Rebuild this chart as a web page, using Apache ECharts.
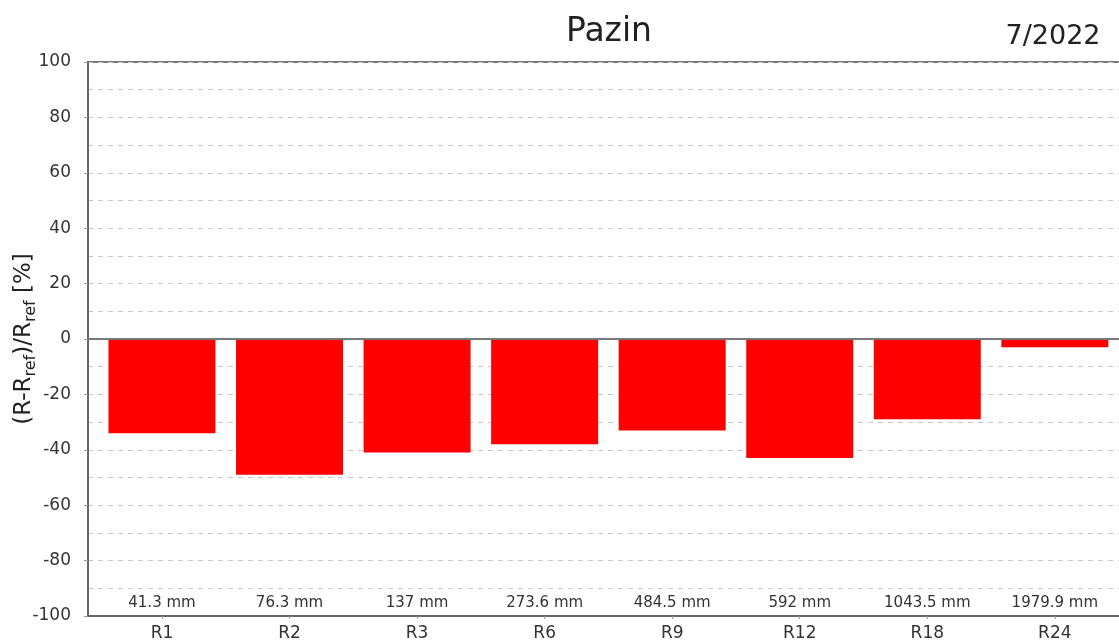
<!DOCTYPE html>
<html>
<head>
<meta charset="utf-8">
<script src="https://cdn.jsdelivr.net/npm/echarts@6/dist/echarts.min.js"></script>
<style>
  html, body { margin: 0; padding: 0; background: #fff; }
  #chart { width: 1119px; height: 641px; }
</style>
</head>
<body>
<div id="chart"></div>
<script>
// Precipitation periods (months) and relative deviation from reference
const categories = ['R1', 'R2', 'R3', 'R6', 'R9', 'R12', 'R18', 'R24'];
const precipitation = [41.3, 76.3, 137, 273.6, 484.5, 592, 1043.5, 1979.9];
const deviation = [-34, -49, -41, -38, -33, -43, -29, -3];
const yTicks = [-100, -80, -60, -40, -20, 0, 20, 40, 60, 80, 100];

const stationName = 'Pazin';
const periodLabel = '7/2022';

const FONT = '"DejaVu Sans", "Noto Sans", sans-serif';
const positions = categories.map((_, i) => i);

const chart = echarts.init(document.getElementById('chart'), null, { renderer: 'canvas' });

chart.setOption({
  animation: false,
  backgroundColor: '#ffffff',
  textStyle: { fontFamily: FONT },
  graphic: [
    {
      type: 'text', x: 609, y: 32,
      style: { text: stationName, align: 'center', verticalAlign: 'middle',
               fontSize: 33, fill: '#222', fontFamily: FONT }
    },
    {
      type: 'text', x: 1053, y: 37,
      style: { text: periodLabel, align: 'center', verticalAlign: 'middle',
               fontSize: 27, fill: '#222', fontFamily: FONT }
    }
  ],
  grid: {
    left: 88, top: 62, right: -6, bottom: 25,
    outerBoundsMode: 'none',
    show: true, borderColor: '#777', borderWidth: 2, backgroundColor: 'transparent'
  },
  xAxis: [
    {
      type: 'value', min: -0.58, max: 7.55,
      position: 'bottom',
      axisLine: { show: true, onZero: false, lineStyle: { color: '#666', width: 2 } },
      axisTick: { show: true, length: 3, customValues: positions, lineStyle: { color: '#999' } },
      axisLabel: {
        customValues: positions, margin: 9, fontSize: 17, color: '#333', fontFamily: FONT,
        formatter: v => categories[Math.round(v)]
      },
      splitLine: { show: false }
    },
    {
      type: 'value', min: -0.58, max: 7.55,
      position: 'bottom',
      axisLine: { show: false, onZero: false },
      axisTick: { show: false },
      axisLabel: {
        inside: true, customValues: positions, margin: 5, fontSize: 15, color: '#333', fontFamily: FONT,
        formatter: v => precipitation[Math.round(v)] + ' mm'
      },
      splitLine: { show: false }
    }
  ],
  yAxis: {
    type: 'value', min: -100, max: 100, interval: 20,
    axisLine: { show: true, onZero: false, lineStyle: { color: '#666', width: 2 } },
    axisTick: { show: true, length: 4, lineStyle: { color: '#999' } },
    axisLabel: {
      fontSize: 17, color: '#333', margin: 17, fontFamily: FONT,
      customValues: yTicks
    },
    splitLine: { show: true, lineStyle: { color: '#c8c8c8', type: [5, 5], width: 1 } },
    minorTick: { show: false, splitNumber: 2 },
    minorSplitLine: { show: true, lineStyle: { color: '#c8c8c8', type: [5, 5], width: 1 } },
    name: '{m|(R-R}{s|ref}{m|)/R}{s|ref}{m| [%]}',
    nameLocation: 'middle', nameGap: 49, nameRotate: 90,
    nameMoveOverlap: false,
    nameTextStyle: {
      rich: {
        m: { fontSize: 23, color: '#222', fontFamily: FONT, lineHeight: 30, verticalAlign: 'middle' },
        s: { fontSize: 16, color: '#222', fontFamily: FONT, lineHeight: 30, verticalAlign: 'bottom', padding: [10, 0, 0, 0] }
      }
    }
  },
  series: [
    {
      type: 'bar',
      xAxisIndex: 0,
      barWidth: 107,
      itemStyle: { color: '#ff0000' },
      data: deviation.map((v, i) => [i, v]),
      markLine: {
        silent: true, symbol: 'none', label: { show: false },
        lineStyle: { color: '#777', width: 2, type: 'solid' },
        data: [{ yAxis: 0 }],
        z: 5
      }
    }
  ]
});
</script>
</body>
</html>
